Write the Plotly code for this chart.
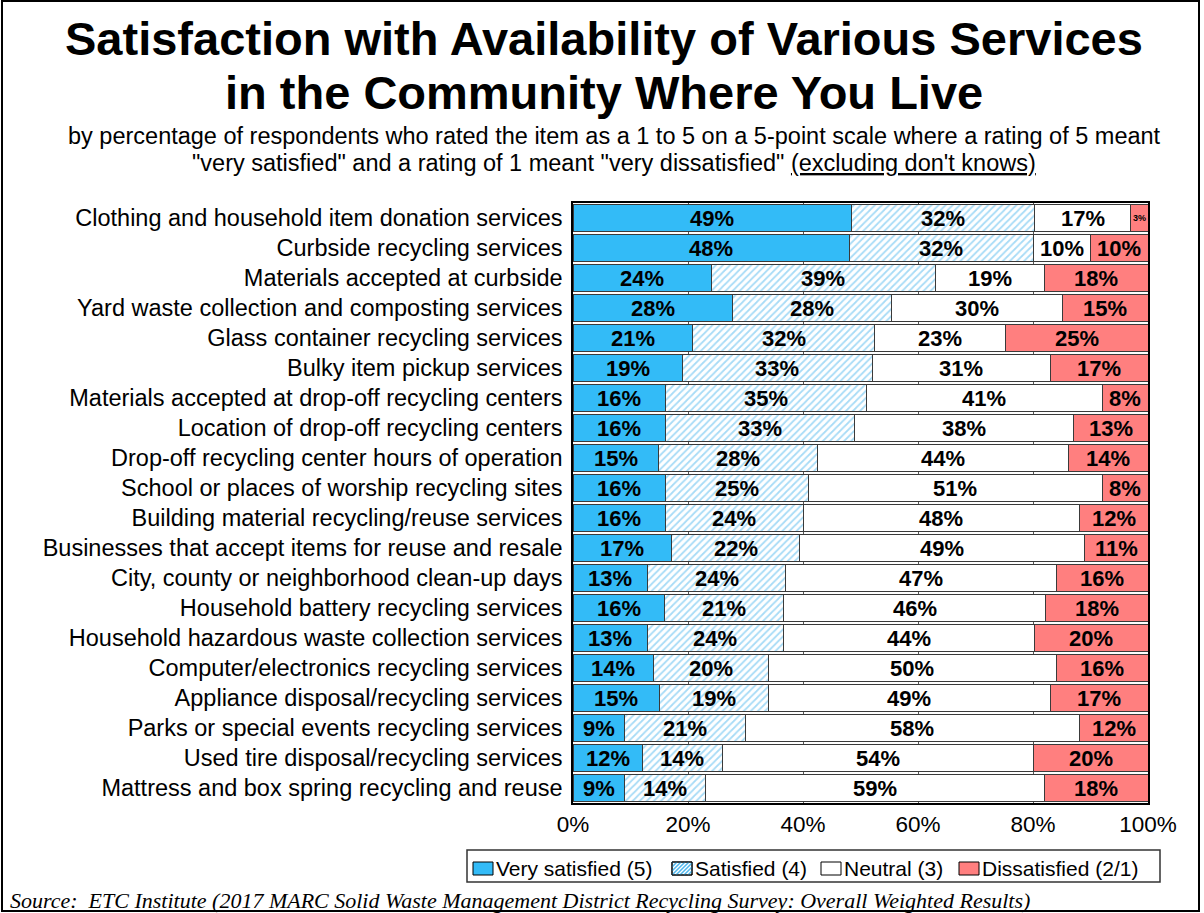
import plotly.graph_objects as go

categories = [
    "Clothing and household item donation services",
    "Curbside recycling services",
    "Materials accepted at curbside",
    "Yard waste collection and composting services",
    "Glass container recycling services",
    "Bulky item pickup services",
    "Materials accepted at drop-off recycling centers",
    "Location of drop-off recycling centers",
    "Drop-off recycling center hours of operation",
    "School or places of worship recycling sites",
    "Building material recycling/reuse services",
    "Businesses that accept items for reuse and resale",
    "City, county or neighborhood clean-up days",
    "Household battery recycling services",
    "Household hazardous waste collection services",
    "Computer/electronics recycling services",
    "Appliance disposal/recycling services",
    "Parks or special events recycling services",
    "Used tire disposal/recycling services",
    "Mattress and box spring recycling and reuse",
]
very_satisfied = [49, 48, 24, 28, 21, 19, 16, 16, 15, 16, 16, 17, 13, 16, 13, 14, 15, 9, 12, 9]
satisfied = [32, 32, 39, 28, 32, 33, 35, 33, 28, 25, 24, 22, 24, 21, 24, 20, 19, 21, 14, 14]
neutral = [17, 10, 19, 30, 23, 31, 41, 38, 44, 51, 48, 49, 47, 46, 44, 50, 49, 58, 54, 59]
dissatisfied = [3, 10, 18, 15, 25, 17, 8, 13, 14, 8, 12, 11, 16, 18, 20, 16, 17, 12, 20, 18]

series_names = ["Very satisfied (5)", "Satisfied (4)", "Neutral (3)", "Dissatisfied (2/1)"]
tick_vals = [0, 20, 40, 60, 80, 100]
tick_text = ["0%", "20%", "40%", "60%", "80%", "100%"]

FONT = "Arial, Liberation Sans, sans-serif"
blue = "#33BBF7"
hatch = "#4FB8EE"
red = "#FF7F7F"
edge = "#3a3a3a"

# plot area in pixels
L, R, T, B = 573, 1148, 203, 803
W, H = R - L, B - T


def px_x(p):
    return (p - L) / W


def px_y(p):
    return (B - p) / H


fig = go.Figure()
series = [very_satisfied, satisfied, neutral, dissatisfied]
styles = [
    dict(color=blue),
    dict(color="white", pattern=dict(shape="/", fgcolor=hatch, bgcolor="white", size=5, solidity=0.35)),
    dict(color="white"),
    dict(color=red),
]
for name, vals, st in zip(series_names, series, styles):
    fig.add_trace(go.Bar(
        y=categories, x=vals, name=name, orientation="h",
        marker=dict(**st, line=dict(color=edge, width=1)),
        textposition="none", showlegend=False,
    ))

# segment labels at the centre of each normalised segment
for i, cat in enumerate(categories):
    row = [s[i] for s in series]
    total = sum(row)
    cum = 0.0
    for v in row:
        share = v / total * 100
        center = cum + share / 2
        cum += share
        size = 22 if v >= 5 else 9
        fig.add_annotation(x=center, y=cat, xref="x", yref="y", text=f"<b>{v}%</b>",
                           showarrow=False, xanchor="center", yanchor="middle",
                           font=dict(family=FONT, size=size, color="black"))

fig.update_layout(
    width=1204, height=913,
    barmode="stack", barnorm="percent", bargap=0.12,
    paper_bgcolor="white", plot_bgcolor="white",
    margin=dict(l=L, r=1204 - R, t=T, b=913 - B, autoexpand=False),
    font=dict(family=FONT, color="black"),
    showlegend=False,
    xaxis=dict(range=[0, 100], tickvals=tick_vals, ticktext=tick_text,
               tickfont=dict(size=22.5, family=FONT), showgrid=True, gridcolor="#555555", gridwidth=1,
               showline=True, linecolor="black", linewidth=1.5, mirror=True, ticks="", zeroline=False),
    yaxis=dict(autorange="reversed", tickfont=dict(size=23.5, family=FONT),
               showline=True, linecolor="black", linewidth=1.5, mirror=True, ticks="",
               ticklabelstandoff=4),
)

title_lines = ["Satisfaction with Availability of Various Services", "in the Community Where You Live"]
for txt, yy in zip(title_lines, [38, 93]):
    fig.add_annotation(xref="paper", yref="paper", x=px_x(604), y=px_y(yy),
                       text=f"<b>{txt}</b>", showarrow=False, xanchor="center", yanchor="middle",
                       font=dict(size=47, family=FONT, color="black"))

sub_lines = ["by percentage of respondents who rated the item as a 1 to 5 on a 5-point scale where a rating of 5 meant",
             "\"very satisfied\" and a rating of 1 meant \"very dissatisfied\" <u>(excluding don't knows)</u>"]
for txt, yy in zip(sub_lines, [136, 163]):
    fig.add_annotation(xref="paper", yref="paper", x=px_x(614), y=px_y(yy),
                       text=txt, showarrow=False, xanchor="center", yanchor="middle",
                       font=dict(size=23.5, family=FONT, color="black"))

fig.add_annotation(xref="paper", yref="paper", x=px_x(8), y=px_y(900),
                   text="<i>Source:  ETC Institute (2017 MARC Solid Waste Management District Recycling Survey: Overall Weighted Results)</i>",
                   showarrow=False, xanchor="left", yanchor="middle",
                   font=dict(size=22, family="Liberation Serif, Times New Roman, serif", color="black"))

# outer frame
fig.add_shape(type="rect", xref="paper", yref="paper",
              x0=px_x(2), x1=px_x(1199), y0=px_y(911), y1=px_y(1),
              line=dict(color="black", width=2), fillcolor="rgba(0,0,0,0)", layer="below")

# custom legend (box, swatches, labels)
fig.add_shape(type="rect", xref="paper", yref="paper",
              x0=px_x(467), x1=px_x(1160), y0=px_y(882), y1=px_y(850),
              line=dict(color="#333333", width=1.5), fillcolor="white")
swatch_x = [473, 672, 821, 959]
text_x = [494, 693, 842, 980]
sw_fill = [blue, "white", "white", red]
sy0, sy1 = 862, 875
for name, sx, tx, fc in zip(series_names, swatch_x, text_x, sw_fill):
    fig.add_shape(type="rect", xref="paper", yref="paper",
                  x0=px_x(sx), x1=px_x(sx + 20), y0=px_y(sy1), y1=px_y(sy0),
                  line=dict(color="black", width=1), fillcolor=fc)
    if name == "Satisfied (4)":
        segs = []
        for k in range(-12, 20, 4):
            ax0, ay0 = sx + k, sy1
            ax1, ay1 = sx + k + 13, sy0
            if ax0 < sx:
                ay0 = sy1 - (sx - ax0)
                ax0 = sx
            if ax1 > sx + 20:
                ay1 = sy0 + (ax1 - (sx + 20))
                ax1 = sx + 20
            if ax1 > ax0:
                segs.append(f"M {px_x(ax0)} {px_y(ay0)} L {px_x(ax1)} {px_y(ay1)}")
        fig.add_shape(type="path", xref="paper", yref="paper", path=" ".join(segs),
                      line=dict(color=hatch, width=1.5))
        fig.add_shape(type="rect", xref="paper", yref="paper",
                      x0=px_x(sx), x1=px_x(sx + 20), y0=px_y(sy1), y1=px_y(sy0),
                      line=dict(color="black", width=1), fillcolor="rgba(0,0,0,0)")
    fig.add_annotation(xref="paper", yref="paper", x=px_x(tx), y=px_y(868),
                       text=name, showarrow=False, xanchor="left", yanchor="middle",
                       font=dict(size=21, family=FONT, color="black"))

fig.write_html("out.html", config={"displayModeBar": False},
               post_script="document.body.style.margin='0';document.body.style.overflow='hidden';")
